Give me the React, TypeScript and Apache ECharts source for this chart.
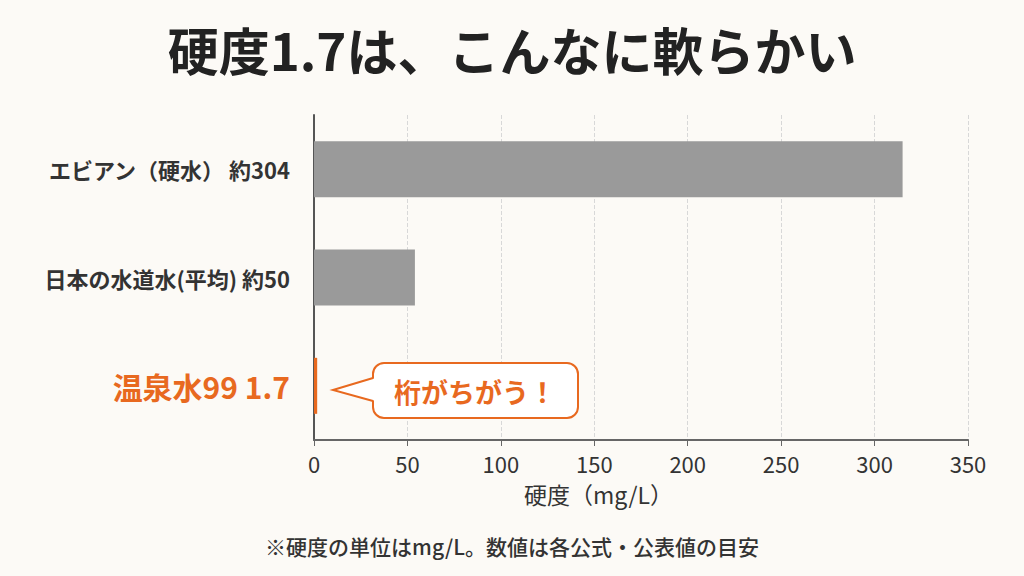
import React, { useEffect, useRef } from "react";
import * as echarts from "echarts";

const categories = ["エビアン（硬水） 約304", "日本の水道水(平均) 約50", "温泉水99 1.7"];
const values = [315, 54, 1.7];
const barColors = ["#9a9a9a", "#9a9a9a", "#e8691f"];
const xTicks = { min: 0, max: 350, interval: 50 };
const titleText = "硬度1.7は、こんなに軟らかい";
const axisTitle = "硬度（mg/L）";
const noteText = "※硬度の単位はmg/L。数値は各公式・公表値の目安";
const calloutText = "桁がちがう！";

const FONT = '"Noto Sans CJK JP", "Noto Sans", sans-serif';
const ORANGE = "#e8691f";

export default function App() {
  const ref = useRef<HTMLDivElement>(null);
  useEffect(() => {
    if (!ref.current) return;
    const chart = echarts.init(ref.current, null, { renderer: "svg" });
    const option: any = {
      animation: false,
      backgroundColor: "#fcfaf6",
      textStyle: { fontFamily: FONT },
      title: {
        text: titleText,
        left: "center",
        top: 18,
        textStyle: { fontSize: 51, fontWeight: "bold", color: "#222", fontFamily: FONT },
      },
      grid: { left: 314, right: 56, top: 115, bottom: 136, containLabel: false },
      xAxis: {
        type: "value",
        min: xTicks.min,
        max: xTicks.max,
        interval: xTicks.interval,
        axisLine: { show: true, lineStyle: { color: "#666", width: 2 } },
        axisTick: { show: true, length: 6, lineStyle: { color: "#666" } },
        axisLabel: { fontSize: 22, color: "#333", margin: 12, fontFamily: FONT },
        splitLine: { show: true, lineStyle: { type: "dashed", color: "#d8d8d8" } },
      },
      yAxis: {
        type: "category",
        data: categories,
        inverse: true,
        axisLine: { show: true, lineStyle: { color: "#555", width: 2 } },
        axisTick: { show: false },
        axisLabel: {
          margin: 24,
          fontFamily: FONT,
          formatter: (v: string) => (v === categories[2] ? `{hl|${v}}` : `{n|${v}}`),
          rich: {
            n: { fontSize: 22, fontWeight: "bold", color: "#333", fontFamily: FONT },
            hl: { fontSize: 30, fontWeight: "bold", color: ORANGE, fontFamily: FONT },
          },
        },
      },
      series: [
        {
          type: "bar",
          barWidth: 56,
          data: values.map((v, i) => ({ value: v, itemStyle: { color: barColors[i] } })),
        },
      ],
      graphic: [
        {
          type: "text",
          left: 524,
          top: 482,
          style: { text: axisTitle, fontSize: 23, fill: "#333", fontFamily: FONT },
        },
        {
          type: "text",
          left: "center",
          top: 535,
          style: { text: noteText, fontSize: 21, fontWeight: 500, fill: "#333", fontFamily: FONT },
        },
        {
          type: "rect",
          shape: { x: 373, y: 363, width: 205, height: 55, r: 11 },
          style: { fill: "#ffffff", stroke: ORANGE, lineWidth: 2 },
          z: 10,
        },
        {
          type: "polygon",
          shape: { points: [[333, 390], [376, 378], [376, 401]] },
          style: { fill: "#ffffff", stroke: null },
          z: 11,
        },
        {
          type: "polyline",
          shape: { points: [[373, 378], [333, 390], [373, 401]] },
          style: { fill: null, stroke: ORANGE, lineWidth: 2 },
          z: 12,
        },
        {
          type: "text",
          x: 475,
          y: 391,
          style: {
            text: calloutText,
            fontSize: 27,
            fontWeight: "bold",
            fill: ORANGE,
            fontFamily: FONT,
            align: "center",
            verticalAlign: "middle",
          },
          z: 13,
        },
      ],
    };
    chart.setOption(option);
    return () => chart.dispose();
  }, []);
  return <div ref={ref} style={{ width: 1024, height: 576, position: "absolute", left: 0, top: 0 }} />;
}
